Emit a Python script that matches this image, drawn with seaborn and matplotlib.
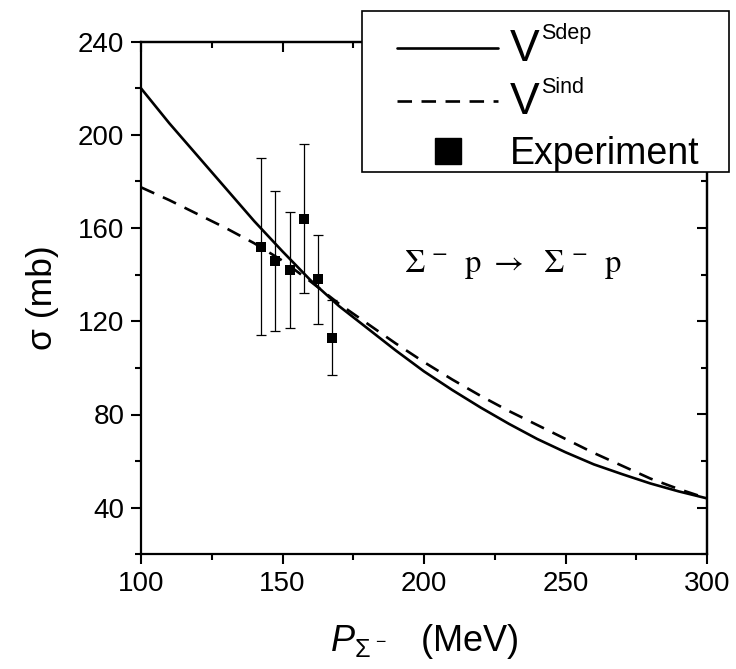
import numpy as np
import pandas as pd
import matplotlib
matplotlib.use("Agg")
import matplotlib.pyplot as plt
from matplotlib.lines import Line2D
from matplotlib.patches import Rectangle
from matplotlib.ticker import MultipleLocator
import seaborn as sns

# ---- data ----
P_theory = [100, 110, 120, 130, 140, 150, 160, 170, 180, 190, 200,
            210, 220, 230, 240, 250, 260, 270, 280, 290, 300]
sigma_sdep = [220, 205, 191, 177, 163, 150, 137.5, 126.5, 117, 107.5, 98.5,
              90.5, 83, 76, 69.5, 63.8, 58.6, 54.4, 50.4, 47, 44]
sigma_sind = [177.5, 172, 166, 160, 153.5, 146, 137, 127.5, 119, 110.5, 102.5,
              95, 88, 81.5, 75.5, 69.5, 63.5, 58, 52.5, 48, 44]

P_exp = [142.5, 147.5, 152.5, 157.5, 162.5, 167.5]
sigma_exp = [152, 146, 142, 164, 138, 113]
sigma_err = [38, 30, 25, 32, 19, 16]

legend_labels = ["V", "V", "Experiment"]
legend_sups = ["Sdep", "Sind"]
reaction_text = r"$\Sigma\;{}^{-}\ \ \mathrm{p}\ \rightarrow\ \ \Sigma\;{}^{-}\ \ \mathrm{p}$"

df = pd.DataFrame({"P": P_theory, "Sdep": sigma_sdep, "Sind": sigma_sind})

# ---- style ----
sns.set_theme(style="ticks")
plt.rcParams["font.family"] = ["Liberation Sans", "DejaVu Sans"]
plt.rcParams["mathtext.fontset"] = "custom"
plt.rcParams["mathtext.rm"] = "Liberation Sans"
plt.rcParams["mathtext.it"] = "Liberation Sans:italic"
plt.rcParams["mathtext.sf"] = "Liberation Sans"
plt.rcParams["axes.linewidth"] = 1.6
for k in ["text.color", "axes.labelcolor", "xtick.color", "ytick.color", "axes.edgecolor"]:
    plt.rcParams[k] = "black"

fig = plt.figure(figsize=(7.36, 6.69), dpi=100)
ax = fig.add_axes([141 / 736, 1 - 554.3 / 669, 566 / 736, 512.6 / 669])

dash = (0, (5.5, 3.6))
sns.lineplot(data=df, x="P", y="Sdep", ax=ax, color="black", lw=1.9)
sns.lineplot(data=df, x="P", y="Sind", ax=ax, color="black", lw=1.9, linestyle=dash)
ax.errorbar(P_exp, sigma_exp, yerr=sigma_err, fmt="none", ecolor="black",
            elinewidth=0.9, capsize=3.4, capthick=0.9, zorder=4)
sns.scatterplot(x=P_exp, y=sigma_exp, ax=ax, marker="s", s=55, color="black",
                edgecolor="black", linewidth=0, zorder=5)

ax.set_xlim(100, 300)
ax.set_ylim(20, 240)
ax.xaxis.set_major_locator(MultipleLocator(50))
ax.xaxis.set_minor_locator(MultipleLocator(25))
ax.yaxis.set_major_locator(MultipleLocator(40))
ax.yaxis.set_minor_locator(MultipleLocator(20))
ax.tick_params(which="major", direction="out", length=7, width=1.5,
               labelsize=20, pad=5)
ax.tick_params(which="minor", direction="out", length=4, width=1.5)

for side in ["top", "right"]:
    ax.spines[side].set_visible(True)

secx = ax.secondary_xaxis("top")
secx.xaxis.set_major_locator(MultipleLocator(50))
secx.xaxis.set_minor_locator(MultipleLocator(25))
secx.tick_params(which="major", direction="in", length=7, width=1.5, labeltop=False)
secx.tick_params(which="minor", direction="in", length=4, width=1.5)
secy = ax.secondary_yaxis("right")
secy.yaxis.set_major_locator(MultipleLocator(40))
secy.yaxis.set_minor_locator(MultipleLocator(20))
secy.tick_params(which="major", direction="in", length=7, width=1.5, labelright=False)
secy.tick_params(which="minor", direction="in", length=4, width=1.5)

ax.set_xlabel(r"$P_{\Sigma^{\,-}}$   (MeV)", fontsize=26, labelpad=18)
ax.set_ylabel("σ (mb)", fontsize=25.5, labelpad=14)

ax.text(193, 141, reaction_text, fontsize=23.5, math_fontfamily="stix",
        ha="left", va="baseline")

# ---- legend ----
frame = Rectangle((362 / 736, 1 - 172 / 669), 367 / 736, 161 / 669,
                  transform=fig.transFigure, facecolor="white", edgecolor="black",
                  linewidth=1.2, clip_on=False, zorder=4.9)
ax.add_patch(frame)

h1 = Line2D([], [], color="black", lw=1.9)
h2 = Line2D([], [], color="black", lw=1.9, linestyle=dash)
h3 = Line2D([], [], color="black", marker="s", linestyle="none", markersize=19)
leg = ax.legend(handles=[h1, h2, h3], labels=legend_labels, loc="upper left",
                bbox_to_anchor=(397 / 736, 1 - 29 / 669),
                bbox_transform=fig.transFigure, borderaxespad=0,
                fontsize=27, handlelength=2.7, handletextpad=0.3,
                labelspacing=0.33, borderpad=0.0, frameon=False)
leg.set_zorder(5)
texts = leg.get_texts()
for t in texts[:2]:
    t.set_fontsize(32)
for t, sup in zip(texts[:2], legend_sups):
    ax.annotate(sup, xy=(1, 1), xycoords=t, xytext=(1.5, 4),
                textcoords="offset points", ha="left", va="top",
                fontsize=15.5, zorder=10)

fig.savefig("out.png", dpi=100)
